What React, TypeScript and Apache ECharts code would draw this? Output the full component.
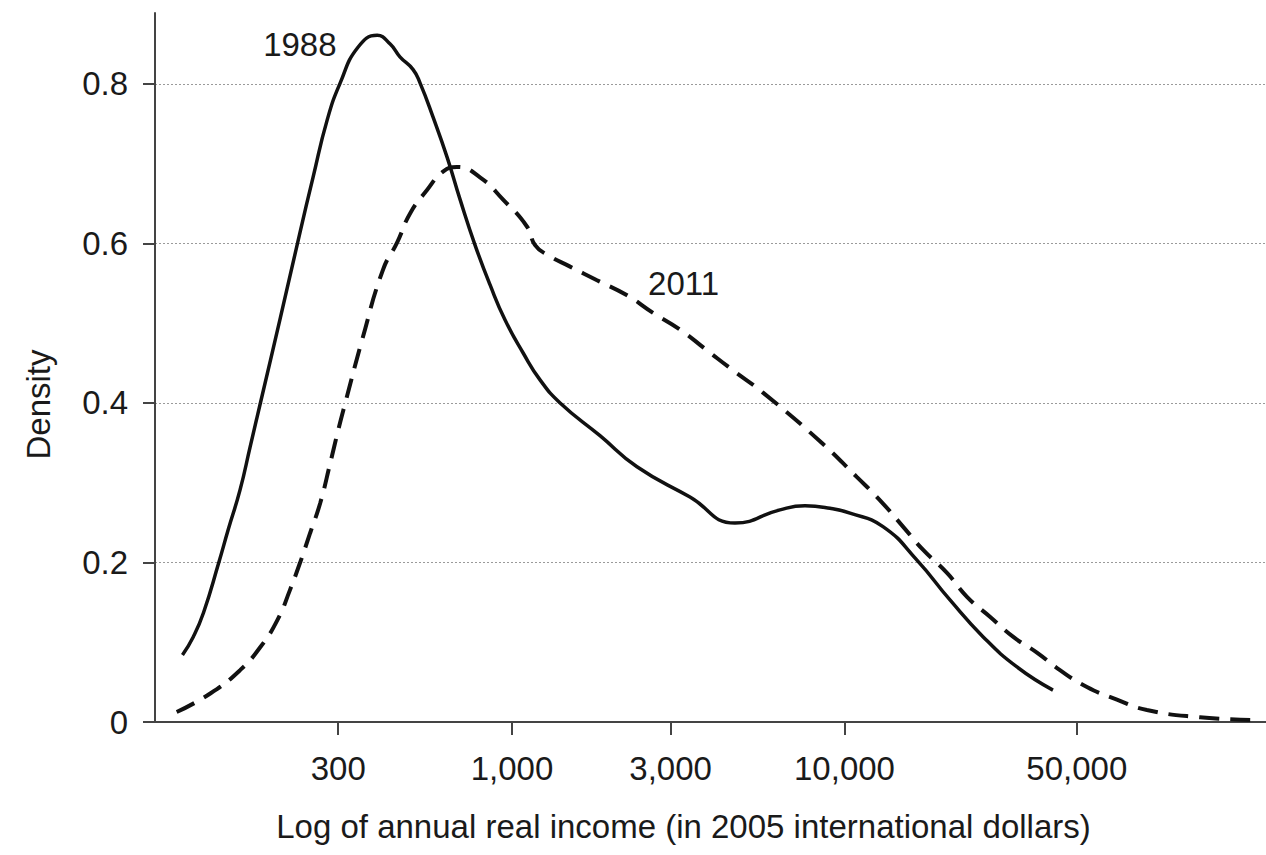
import React, { useEffect, useRef } from "react";
import * as echarts from "echarts";

// Annual real income (2005 international dollars) and kernel density, 1988
const incomes1988 = [102, 110, 118, 131, 140, 152, 163, 175, 201, 230, 252, 278, 304, 344, 393, 430, 460, 504, 529, 578, 638, 698, 774, 859, 953, 1079, 1214, 1395, 1839, 2376, 3430, 4685, 6397, 7608, 9045, 10388, 13057, 16520, 20768, 26096, 33030, 42380];
const density1988 = [0.084, 0.107, 0.137, 0.199, 0.241, 0.291, 0.345, 0.4, 0.507, 0.613, 0.683, 0.755, 0.801, 0.846, 0.861, 0.85, 0.834, 0.818, 0.801, 0.759, 0.708, 0.655, 0.598, 0.548, 0.504, 0.463, 0.429, 0.4, 0.359, 0.32, 0.282, 0.2495, 0.266, 0.271, 0.268, 0.262, 0.245, 0.203, 0.153, 0.107, 0.069, 0.04];

// Same for 2011
const incomes2011 = [98, 124, 152, 175, 197, 215, 230, 247, 265, 284, 300, 315, 354, 409, 451, 494, 555, 620, 683, 801, 940, 1110, 1173, 1275, 1495, 1801, 2218, 2656, 3202, 3859, 4620, 5686, 8439, 10905, 12793, 14998, 17222, 20340, 23360, 27391, 32127, 37924, 44480, 53623, 66013, 81247, 117300, 171700];
const density2011 = [0.0125, 0.036, 0.065, 0.094, 0.128, 0.166, 0.199, 0.237, 0.275, 0.325, 0.366, 0.4, 0.479, 0.567, 0.601, 0.638, 0.667, 0.69, 0.696, 0.683, 0.655, 0.621, 0.598, 0.586, 0.571, 0.554, 0.535, 0.513, 0.492, 0.466, 0.441, 0.413, 0.352, 0.307, 0.278, 0.245, 0.216, 0.187, 0.157, 0.132, 0.107, 0.087, 0.065, 0.044, 0.028, 0.015, 0.006, 0.0025];

const incomeTicks = [300, 1000, 3000, 10000, 50000];
const densityTicks = [0, 0.2, 0.4, 0.6, 0.8];

// Where the year labels sit: [income, density]
const label1988 = [230, 0.849];
const label2011 = [3281, 0.55];

const FONT = "'Liberation Sans', Arial, Helvetica, sans-serif";
const INK = "#1a1a1a";

const toPoints = (xs: number[], ys: number[]) => xs.map((x, i) => [Math.log10(x), ys[i]]);

export default function App() {
  const ref = useRef<HTMLDivElement>(null);

  useEffect(() => {
    if (!ref.current) return;
    const chart = echarts.init(ref.current, null, { renderer: "svg" });
    const tickPos = incomeTicks.map((v) => Math.log10(v));

    chart.setOption({
      animation: false,
      backgroundColor: "#ffffff",
      grid: { left: 155, right: 0, top: 13, bottom: 133, containLabel: false },
      xAxis: {
        type: "value",
        min: 1.926,
        max: 5.268,
        name: "Log of annual real income (in 2005 international dollars)",
        nameLocation: "middle",
        nameGap: 88,
        nameTextStyle: { fontFamily: FONT, fontSize: 33, color: INK, padding: [0, 54, 0, 0] },
        axisLine: { show: true, onZero: false, lineStyle: { color: "#444", width: 2 } },
        axisTick: { show: true, customValues: tickPos, length: 13, lineStyle: { color: "#444", width: 2 } },
        axisLabel: {
          customValues: tickPos,
          margin: 30,
          fontFamily: FONT,
          fontSize: 33,
          color: INK,
          formatter: (v: number) => Math.round(Math.pow(10, v)).toLocaleString("en-US"),
        },
        splitLine: { show: false },
      },
      yAxis: {
        type: "value",
        min: 0,
        max: 0.889,
        name: "Density",
        nameLocation: "middle",
        nameGap: 100,
        nameTextStyle: { fontFamily: FONT, fontSize: 33, color: INK, padding: [0, 74, 0, 0] },
        axisLine: { show: true, lineStyle: { color: "#444", width: 2 } },
        axisTick: { show: true, customValues: densityTicks, length: 12, lineStyle: { color: "#444", width: 2 } },
        axisLabel: {
          customValues: densityTicks,
          margin: 27,
          fontFamily: FONT,
          fontSize: 33,
          color: INK,
          formatter: (v: number) => (v === 0 ? "0" : v.toFixed(1)),
        },
        splitLine: {
          show: true,
          lineStyle: { color: "#9a9a9a", type: [2, 2], width: 1 },
        },
      },
      series: [
        {
          name: "1988",
          type: "line",
          data: toPoints(incomes1988, density1988),
          smooth: 0.5,
          showSymbol: false,
          lineStyle: { color: "#111", width: 3.5 },
          markPoint: {
            symbol: "circle",
            symbolSize: 0,
            label: { show: true, position: "inside", formatter: "1988", fontFamily: FONT, fontSize: 33, color: INK },
            data: [{ coord: [Math.log10(label1988[0]), label1988[1]] }],
          },
        },
        {
          name: "2011",
          type: "line",
          data: toPoints(incomes2011, density2011),
          smooth: 0.5,
          showSymbol: false,
          lineStyle: { color: "#111", width: 4, type: [20, 11] },
          markPoint: {
            symbol: "circle",
            symbolSize: 0,
            label: { show: true, position: "inside", formatter: "2011", fontFamily: FONT, fontSize: 33, color: INK },
            data: [{ coord: [Math.log10(label2011[0]), label2011[1]] }],
          },
        },
      ],
    });

    return () => chart.dispose();
  }, []);

  return (
    <div
      ref={ref}
      style={{ position: "absolute", left: 0, top: 0, width: 1266, height: 855 }}
    />
  );
}
